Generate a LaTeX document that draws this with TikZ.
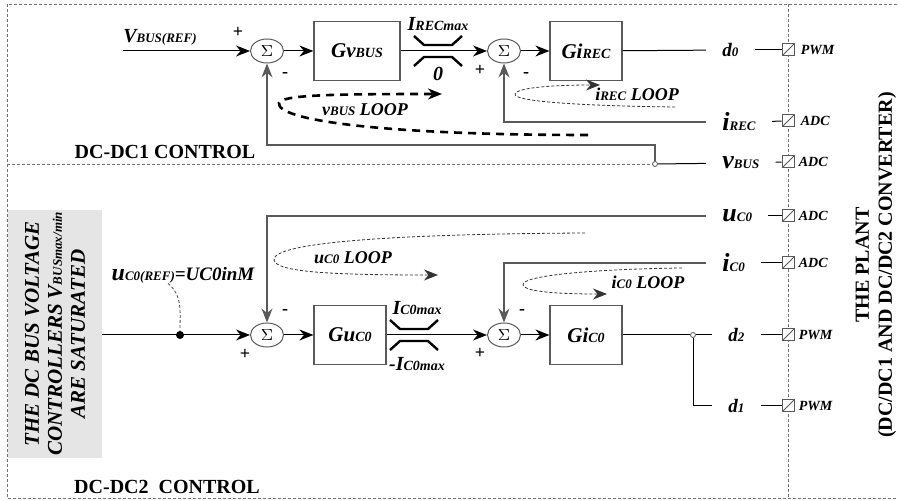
\documentclass[tikz,border=0pt]{standalone}
\usepackage{fontspec}
\setmainfont{Liberation Serif}
\usetikzlibrary{arrows.meta,shapes.geometric,positioning}

\newcommand{\lo}[1]{{\fontsize{6.5}{7}\selectfont #1}}
\newcommand{\lob}[1]{{\fontsize{7}{8}\selectfont #1}}

\begin{document}
\begin{tikzpicture}[
    x=0.5pt, y=-0.5pt,
    >={Stealth[length=7pt,width=5.5pt]},
    wire/.style   ={draw=black, line width=0.5pt},
    fbwire/.style ={draw=black!65, line width=0.6pt},
    blk/.style    ={draw=black!65, line width=0.6pt, minimum width=36pt, minimum height=29.5pt, inner sep=0pt, font=\fontsize{10.5}{12}\selectfont\bfseries\itshape},
    sumnode/.style={draw=black!65, line width=0.5pt, ellipse, minimum width=16.5pt, minimum height=12pt, inner sep=0pt, font=\fontsize{8}{9}\selectfont},
    sgn/.style    ={font=\fontsize{9}{10}\selectfont\bfseries, inner sep=0pt},
    sigd/.style   ={font=\fontsize{9.5}{11}\selectfont\bfseries\itshape, anchor=west, inner xsep=8pt, inner ysep=1pt},
    sigl/.style   ={sigd, font=\fontsize{13}{14}\selectfont\bfseries\itshape},
    conv/.style   ={draw=black!65, fill=white, line width=0.5pt, minimum size=6pt, inner sep=0pt,
                    path picture={\draw[black!65] (path picture bounding box.south west) -- (path picture bounding box.north east);}},
    tap/.style    ={circle, draw=black!65, fill=white, inner sep=0pt, minimum size=2.5pt},
    tag/.style    ={font=\fontsize{7}{8}\selectfont\bfseries\itshape, inner sep=1pt},
    lbl/.style    ={font=\fontsize{10}{12}\selectfont\bfseries\itshape, inner sep=0pt},
    looplbl/.style={font=\fontsize{9}{10}\selectfont\bfseries\itshape, inner sep=0pt},
    looptk/.style ={draw, line width=1.3pt, dash pattern=on 4pt off 3pt, ->},
    looptn/.style ={draw=black!80, line width=0.4pt, dash pattern=on 1.5pt off 1pt, ->},
    satl/.style   ={draw, line width=1.2pt},
    frame/.style  ={draw=black!55, line width=0.4pt, dash pattern=on 1.5pt off 1pt},
    title/.style  ={font=\fontsize{10}{12}\selectfont\bfseries, inner sep=0pt}
]
\useasboundingbox (0,0) rectangle (899,501);

% Frame, plant border and separator
\draw[frame] (897,4) -- (7,4) -- (7,498) -- (897,498);
\draw[frame] (788,4) -- (788,498);
\coordinate (sepw) at (7,164);
\node[tap] (tap1) at (655,164) {};
\draw[frame] (sepw) -- (tap1);

% DC-DC1 control: blocks and sums
\node[lbl] (vref) at (160,37) {V\lo{BUS(REF)}};
\node[sgn] (p1) at (238,32) {+};
\node[sumnode] (sum1) at (267,51) {$\Sigma$};
\node[sgn] (m1) at (285,75) {-};
\node[blk, minimum width=43pt] (gvbus) at (357,51) {Gv\lob{BUS}};
\coordinate (sat1) at (438,51);
\node[lbl] (irmax) at (438,24) {I\lob{RECmax}};
\node[lbl] (zero) at (438,74) {0};
\node[sgn] (p2) at (480,70) {+};
\node[sumnode] (sum2) at (504,51) {$\Sigma$};
\node[sgn] (m2) at (526,75) {-};
\node[blk] (girec) at (586,51) {Gi\lob{REC}};

% DC-DC1 control: plant signals
\node[sigd] (d0) at (706,50) {d\lo{0}};
\node[sigl] (irec) at (706,122) {i\lo{REC}};
\node[sigl] (vbus) at (706,163) {v\lo{BUS}};
\node[conv] (pwm0) at (788,50) {};
\node[conv] (adc1) at (788,121) {};
\node[conv] (adc2) at (788,162) {};
\node[tag, right=2pt of pwm0] (pwm0t) {PWM};
\node[tag, right=2pt of adc1] (adc1t) {ADC};
\node[tag, right=1pt of adc2] (adc2t) {ADC};

% DC-DC1 control: wires
\draw[wire,->] (vref.south west |- sum1.west) -- (sum1.west);
\draw[wire,->] (sum1) -- (gvbus);
\draw[wire,->] (gvbus) -- (sum2);
\draw[satl] ([shift={(-24,-15)}]sat1) -- ++(10,9) -- ++(28,0) -- ++(10,-9);
\draw[satl] ([shift={(-24,15)}]sat1) -- ++(10,-9) -- ++(28,0) -- ++(10,9);
\draw[wire,->] (sum2) -- (girec);
\draw[wire] (girec) -- (d0);
\draw[wire] (d0) -- (pwm0);
\draw[fbwire,->] (irec.west) -| (sum2.south);
\draw[wire] (irec) -- (adc1);
\draw[wire] (tap1) -- (vbus);
\draw[wire] (vbus) -- (adc2);
\coordinate (vfb) at (267,145);
\draw[fbwire,->] (tap1.north) |- (vfb) -- (sum1.south);

% DC-DC1 control: loops
\draw[looptk] (588,135) .. controls (380,135) and (276,120) .. (279,103) .. controls (282,95) and (330,94) .. (442,94);
\node[looplbl] (vloop) at (365,110) {v\lo{BUS} LOOP};
\draw[looptn] (675,107) .. controls (590,106) and (513,102) .. (515,94) .. controls (517,87) and (560,85) .. (600,85);
\node[looplbl] (iloop1) at (637,94) {i\lo{REC} LOOP};
\node[title] (t1) at (165,152) {DC-DC1 CONTROL};

% DC-DC2 control: saturated bus controllers
\node[fill=black!10, rotate=90, minimum width=124pt, minimum height=47pt, inner sep=0pt, align=center,
      font=\fontsize{10.5}{11.5}\selectfont\bfseries\itshape] (satbox) at (55,334)
      {THE DC BUS VOLTAGE\\CONTROLLERS V\lo{BUSmax/min}\\ARE SATURATED};
\node[inner sep=0pt, font=\bfseries\itshape] (uref) at (183,275)
      {{\fontsize{12}{14}\selectfont u}\lo{C0(REF)}{\fontsize{9.5}{10}\selectfont =UC0inM}};
\node[circle, fill, inner sep=0pt, minimum size=4pt] (dot) at (180,335) {};

% DC-DC2 control: blocks and sums
\node[sumnode] (sum3) at (267,335) {$\Sigma$};
\node[sgn] (p3) at (245,354) {+};
\node[sgn] (m3) at (285,312) {-};
\node[blk] (guc0) at (350,335) {Gu\lob{C0}};
\coordinate (sat2) at (414,335);
\node[lbl] (icmax) at (417,308) {I\lob{C0max}};
\node[lbl] (icmin) at (417,364) {-I\lob{C0max}};
\node[sumnode] (sum4) at (504,335) {$\Sigma$};
\node[sgn] (p4) at (480,353) {+};
\node[sgn] (m4) at (522,312) {-};
\node[blk] (gic0) at (586,335) {Gi\lob{C0}};
\node[tap] (tap2) at (693,335) {};

% DC-DC2 control: plant signals
\node[sigl] (uc0) at (706,216) {u\lo{C0}};
\node[sigl] (ic0) at (706,263) {i\lo{C0}};
\node[sigd] (d2) at (712,335) {d\lo{2}};
\node[sigd] (d1) at (712,406) {d\lo{1}};
\node[conv] (adc3) at (788,216) {};
\node[conv] (adc4) at (788,263) {};
\node[conv] (pwm2) at (788,335) {};
\node[conv] (pwm1) at (788,406) {};
\node[tag, right=1pt of adc3] (adc3t) {ADC};
\node[tag, right=1pt of adc4] (adc4t) {ADC};
\node[tag, right=1pt of pwm2] (pwm2t) {PWM};
\node[tag, right=1pt of pwm1] (pwm1t) {PWM};

% DC-DC2 control: wires
\draw[wire,->] (satbox.south |- sum3.west) -- (sum3.west);
\draw[black!70, line width=0.4pt, dash pattern=on 1.5pt off 1pt] ([xshift=-7.5pt]uref.south) to[out=-40, in=90] (dot);
\draw[wire,->] (sum3) -- (guc0);
\draw[wire,->] (guc0) -- (sum4);
\draw[satl] ([shift={(-24,-15)}]sat2) -- ++(10,9) -- ++(28,0) -- ++(10,-9);
\draw[satl] ([shift={(-24,15)}]sat2) -- ++(10,-9) -- ++(28,0) -- ++(10,9);
\draw[wire,->] (sum4) -- (gic0);
\draw[wire] (gic0) -- (tap2) -- (d2);
\draw[wire] (tap2) |- (d1);
\draw[fbwire,->] (uc0.west) -| (sum3.north);
\draw[fbwire,->] (ic0.west) -| (sum4.north);
\draw[wire] (uc0) -- (adc3);
\draw[wire] (ic0) -- (adc4);
\draw[wire] (d2) -- (pwm2);
\draw[wire] (d1) -- (pwm1);

% DC-DC2 control: loops
\draw[looptn] (585,233) .. controls (400,234) and (272,242) .. (274,260) .. controls (276,272) and (330,275) .. (438,275);
\node[looplbl] (uloop) at (353,258) {u\lo{C0} LOOP};
\draw[looptn] (682,268) .. controls (600,269) and (521,275) .. (523,285) .. controls (525,292) and (560,294) .. (607,294);
\node[looplbl] (iloop2) at (648,282) {i\lo{C0} LOOP};
\node[title] (t2) at (167,487) {DC-DC2\ \ CONTROL};

% The plant
\node[rotate=90, align=center, inner sep=0pt, font=\fontsize{10}{11.5}\selectfont\bfseries] (plant) at (876,265)
      {THE PLANT\\(DC/DC1 AND DC/DC2 CONVERTER)};
\end{tikzpicture}
\end{document}
